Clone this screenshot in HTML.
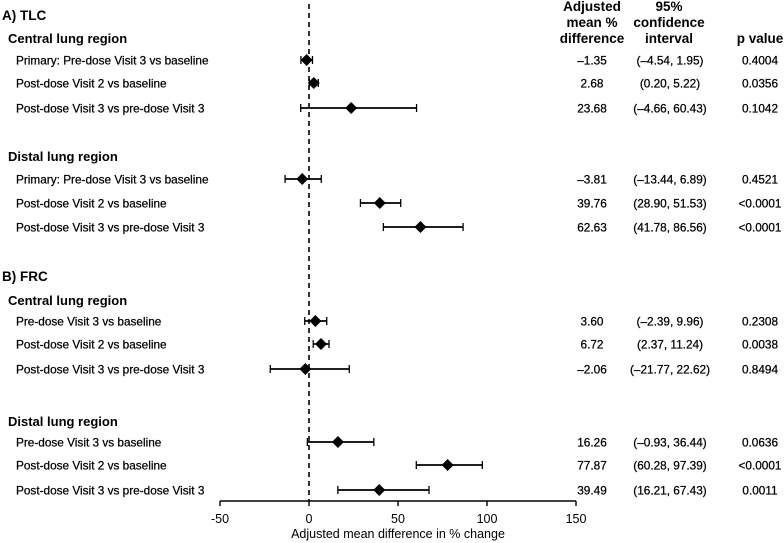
<!DOCTYPE html>
<html><head><meta charset="utf-8"><style>
html,body{margin:0;padding:0;background:#fff;}
svg{display:block;font-family:"Liberation Sans",Arial,sans-serif;}
</style></head><body>
<svg id="chart" width="784" height="543" viewBox="0 0 784 543"></svg>
<script>
const labels=["Primary: Pre-dose Visit 3 vs baseline","Post-dose Visit 2 vs baseline","Post-dose Visit 3 vs pre-dose Visit 3",
"Primary: Pre-dose Visit 3 vs baseline","Post-dose Visit 2 vs baseline","Post-dose Visit 3 vs pre-dose Visit 3",
"Pre-dose Visit 3 vs baseline","Post-dose Visit 2 vs baseline","Post-dose Visit 3 vs pre-dose Visit 3",
"Pre-dose Visit 3 vs baseline","Post-dose Visit 2 vs baseline","Post-dose Visit 3 vs pre-dose Visit 3"];
const estimates=[-1.35,2.68,23.68,-3.81,39.76,62.63,3.60,6.72,-2.06,16.26,77.87,39.49];
const lower=[-4.54,0.20,-4.66,-13.44,28.90,41.78,-2.39,2.37,-21.77,-0.93,60.28,16.21];
const upper=[1.95,5.22,60.43,6.89,51.53,86.56,9.96,11.24,22.62,36.44,97.39,67.43];
const pvals=["0.4004","0.0356","0.1042","0.4521","<0.0001","<0.0001","0.2308","0.0038","0.8494","0.0636","<0.0001","0.0011"];
const ticks=[-50,0,50,100,150];
const rowY=[60,83,108,179,203,227,321,344,369,442,465,490];
const svg=document.getElementById('chart');
const NS='http://www.w3.org/2000/svg';
const x=v=>309+v*1.78;
function el(t,a,txt){const e=document.createElementNS(NS,t);for(const k in a)e.setAttribute(k,a[k]);if(txt!==undefined)e.textContent=txt;svg.appendChild(e);return e;}
const fmt=v=>(v<0?'\u2013':'')+Math.abs(v).toFixed(2);
const TS={'font-size':11.8,stroke:'#000','stroke-width':0.25};
let e;
e=el('text',{x:2,y:20,'font-size':13.5,'font-weight':'bold'},'A) TLC');
e=el('text',{x:2,y:281,'font-size':13.5,'font-weight':'bold'},'B) FRC');
[[8,43,'Central lung region'],[8,161,'Distal lung region'],[8,305,'Central lung region'],[8,426,'Distal lung region']].forEach(s=>{
 e=el('text',{x:s[0],y:s[1],'font-size':13,'font-weight':'bold'},s[2]);
});
[[592,['Adjusted','mean %','difference']],[669,['95%','confidence','interval']],[760,['','','p value']]].forEach(h=>{
 h[1].forEach((t,i)=>{if(!t)return;e=el('text',{x:h[0],y:11+i*16,'font-size':13.5,'font-weight':'bold','text-anchor':'middle'},t);});
});
e=el('line',{x1:x(0),x2:x(0),y1:4,y2:501,stroke:'#000','stroke-width':1.6,'stroke-dasharray':'5,4'});
labels.forEach((l,i)=>{
 const y=rowY[i];
 e=el('text',Object.assign({x:16,y:y+4.5},TS),l);
 e=el('line',{x1:x(lower[i]),x2:x(upper[i]),y1:y,y2:y,stroke:'#000','stroke-width':1.8});
 [lower[i],upper[i]].forEach(v=>{e=el('line',{x1:x(v),x2:x(v),y1:y-4,y2:y+4,stroke:'#000','stroke-width':1.3});});
 const cx=x(estimates[i]);
 e=el('polygon',{points:`${cx-6},${y} ${cx},${y-6} ${cx+6},${y} ${cx},${y+6}`,fill:'#000'});
 e=el('text',Object.assign({x:592,y:y+4.5,'text-anchor':'middle'},TS),fmt(estimates[i]));
 e=el('text',Object.assign({x:670,y:y+4.5,'text-anchor':'middle'},TS),'('+fmt(lower[i])+', '+fmt(upper[i])+')');
 e=el('text',Object.assign({x:760,y:y+4.5,'text-anchor':'middle'},TS),pvals[i]);
});
e=el('line',{x1:x(-50),x2:x(150),y1:501,y2:501,stroke:'#000','stroke-width':1.6});
ticks.forEach(t=>{
 e=el('line',{x1:x(t),x2:x(t),y1:501,y2:506,stroke:'#000','stroke-width':1.4});
 e=el('text',{x:x(t),y:523,'font-size':12.5,'text-anchor':'middle'},String(t));
});
e=el('text',{x:x(50),y:538,'font-size':12.5,'text-anchor':'middle'},'Adjusted mean difference in % change');
</script>
</body></html>
